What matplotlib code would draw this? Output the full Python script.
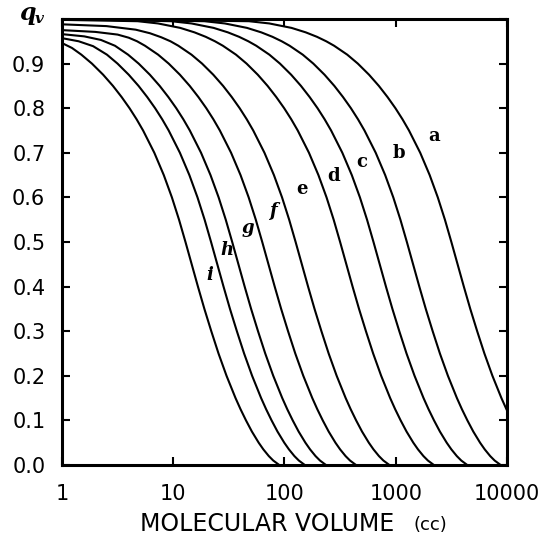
import numpy as np
import matplotlib
matplotlib.use("Agg")
import matplotlib.pyplot as plt

# ---- data: log10(molecular volume) at given q_v ----
Q_LEVELS = [0.92, 0.90, 0.875, 0.85, 0.825, 0.80, 0.775, 0.75, 0.70, 0.65,
            0.60, 0.55, 0.50, 0.45, 0.40, 0.35, 0.30, 0.25, 0.20, 0.15,
            0.125, 0.10, 0.075, 0.05, 0.035, 0.02, 0.01, 0.0]

curve_names = ["a", "b", "c", "d", "e", "f", "g", "h", "i"]

# upper tails (log10 V, q) for each curve, above q = 0.92
top_a_logv = [0.0, 1.68, 1.863, 2.063, 2.191, 2.292, 2.375, 2.446]
top_a_q    = [1.0, 0.995, 0.99, 0.98, 0.97, 0.96, 0.95, 0.94]
top_b_logv = [0.0, 1.28, 1.463, 1.663, 1.791, 1.892, 1.975, 2.046]
top_b_q    = [1.0, 0.995, 0.99, 0.98, 0.97, 0.96, 0.95, 0.94]
top_c_logv = [0.0, 0.98, 1.163, 1.363, 1.491, 1.592, 1.675, 1.746]
top_c_q    = [1.0, 0.995, 0.99, 0.98, 0.97, 0.96, 0.95, 0.94]
top_d_logv = [0.0, 0.68, 0.863, 1.063, 1.191, 1.292, 1.375, 1.446]
top_d_q    = [0.998, 0.995, 0.99, 0.98, 0.97, 0.96, 0.95, 0.94]
top_e_logv = [0.0, 0.40, 0.663, 0.791, 0.892, 0.975, 1.046]
top_e_q    = [0.988, 0.984, 0.976, 0.968, 0.959, 0.95, 0.94]
top_f_logv = [0.0, 0.30, 0.50, 0.60, 0.675, 0.746]
top_f_q    = [0.975, 0.971, 0.965, 0.958, 0.95, 0.94]
top_g_logv = [0.0, 0.20, 0.35, 0.476]
top_g_q    = [0.966, 0.961, 0.953, 0.94]
top_h_logv = [0.0, 0.15, 0.28]
top_h_q    = [0.957, 0.95, 0.939]
top_i_logv = [0.0, 0.09]
top_i_q    = [0.946, 0.935]

# lower parts: log10 V at the Q_LEVELS
a_logv = [2.564, 2.659, 2.760, 2.848, 2.926, 2.997, 3.061, 3.119, 3.220, 3.305,
          3.378, 3.442, 3.500, 3.556, 3.612, 3.670, 3.732, 3.797, 3.869, 3.950,
          3.995, 4.044, 4.097, 4.158, 4.200, 4.249, 4.289, 4.343]
b_logv = [2.164, 2.259, 2.360, 2.448, 2.526, 2.597, 2.661, 2.719, 2.820, 2.905,
          2.978, 3.042, 3.100, 3.156, 3.212, 3.270, 3.332, 3.397, 3.469, 3.550,
          3.595, 3.644, 3.697, 3.758, 3.800, 3.849, 3.889, 3.943]
c_logv = [1.864, 1.959, 2.060, 2.148, 2.226, 2.297, 2.361, 2.419, 2.520, 2.605,
          2.678, 2.742, 2.800, 2.856, 2.912, 2.970, 3.032, 3.097, 3.169, 3.250,
          3.295, 3.344, 3.397, 3.458, 3.500, 3.549, 3.589, 3.643]
d_logv = [1.564, 1.659, 1.760, 1.848, 1.926, 1.997, 2.061, 2.119, 2.220, 2.305,
          2.378, 2.442, 2.500, 2.556, 2.612, 2.670, 2.732, 2.797, 2.869, 2.950,
          2.995, 3.044, 3.097, 3.158, 3.200, 3.249, 3.289, 3.343]
e_logv = [1.164, 1.259, 1.360, 1.448, 1.526, 1.597, 1.661, 1.719, 1.820, 1.905,
          1.978, 2.042, 2.100, 2.156, 2.212, 2.270, 2.332, 2.397, 2.469, 2.550,
          2.595, 2.644, 2.697, 2.758, 2.800, 2.849, 2.889, 2.943]
f_logv = [0.864, 0.959, 1.060, 1.148, 1.226, 1.297, 1.361, 1.419, 1.520, 1.605,
          1.678, 1.742, 1.800, 1.856, 1.912, 1.970, 2.032, 2.097, 2.169, 2.250,
          2.295, 2.344, 2.397, 2.458, 2.500, 2.549, 2.589, 2.643]
g_logv = [0.594, 0.689, 0.790, 0.878, 0.956, 1.027, 1.091, 1.149, 1.250, 1.335,
          1.408, 1.472, 1.530, 1.586, 1.642, 1.700, 1.762, 1.827, 1.899, 1.980,
          2.025, 2.074, 2.127, 2.188, 2.230, 2.279, 2.319, 2.373]
h_logv = [0.404, 0.499, 0.600, 0.688, 0.766, 0.837, 0.901, 0.959, 1.060, 1.145,
          1.218, 1.282, 1.340, 1.396, 1.452, 1.510, 1.572, 1.637, 1.709, 1.790,
          1.835, 1.884, 1.937, 1.998, 2.040, 2.089, 2.129, 2.183]
i_logv = [0.174, 0.269, 0.370, 0.458, 0.536, 0.607, 0.671, 0.729, 0.830, 0.915,
          0.988, 1.052, 1.110, 1.166, 1.222, 1.280, 1.342, 1.407, 1.479, 1.560,
          1.605, 1.654, 1.707, 1.768, 1.810, 1.859, 1.899, 1.953]

x_ticks = [1, 10, 100, 1000, 10000]
x_ticklabels = ["1", "10", "100", "1000", "10000"]
y_ticks = [0.0, 0.1, 0.2, 0.3, 0.4, 0.5, 0.6, 0.7, 0.8, 0.9, 1.0]
y_ticklabels = ["0.0", "0.1", "0.2", "0.3", "0.4", "0.5", "0.6", "0.7", "0.8", "0.9", ""]

tops = {"a": (top_a_logv, top_a_q), "b": (top_b_logv, top_b_q),
        "c": (top_c_logv, top_c_q), "d": (top_d_logv, top_d_q),
        "e": (top_e_logv, top_e_q), "f": (top_f_logv, top_f_q),
        "g": (top_g_logv, top_g_q), "h": (top_h_logv, top_h_q),
        "i": (top_i_logv, top_i_q)}
lows = {"a": a_logv, "b": b_logv, "c": c_logv, "d": d_logv, "e": e_logv,
        "f": f_logv, "g": g_logv, "h": h_logv, "i": i_logv}

# label placement (axes-fraction layout)
label_pos = {"a": (0.836, 0.738), "b": (0.757, 0.700), "c": (0.674, 0.679),
             "d": (0.611, 0.648), "e": (0.539, 0.619), "f": (0.474, 0.570),
             "g": (0.418, 0.531), "h": (0.371, 0.482), "i": (0.332, 0.426)}

fig = plt.figure(figsize=(5.5, 5.39), dpi=100)
ax = fig.add_axes([0.1127, 0.1373, 0.8091, 0.8275])

for n in curve_names:
    tl, tq = tops[n]
    lv = list(tl) + list(lows[n])
    qq = list(tq) + list(Q_LEVELS)
    ax.plot(np.power(10.0, lv), qq, color="black", lw=1.5,
            solid_joinstyle="round", solid_capstyle="round")

ax.set_xscale("log")
ax.set_xlim(1, 10000)
ax.set_ylim(0, 1.0)
ax.set_xticks(x_ticks)
ax.set_xticklabels(x_ticklabels)
ax.xaxis.set_minor_locator(matplotlib.ticker.NullLocator())
ax.set_yticks(y_ticks)
ax.set_yticklabels(y_ticklabels)

for s in ax.spines.values():
    s.set_linewidth(2.2)
ax.tick_params(axis="both", which="major", direction="in", length=6, width=1.5,
               top=True, right=True, labelsize=15)
ax.tick_params(axis="x", pad=14)
ax.tick_params(axis="y", pad=12)

for n in curve_names:
    x, y = label_pos[n]
    style = "italic" if n in "fghi" else "normal"
    ax.text(x, y, n, transform=ax.transAxes, fontsize=13, fontweight="bold",
            family="DejaVu Serif", style=style, ha="center", va="center")

fig.text(0.035, 0.975, "q", fontsize=17, fontweight="bold", style="italic",
         family="DejaVu Serif", ha="left", va="center")
fig.text(0.063, 0.965, "v", fontsize=11, fontweight="bold", style="italic",
         family="DejaVu Serif", ha="left", va="center")

fig.text(0.485, 0.028, "MOLECULAR VOLUME", fontsize=17, ha="center", va="center")
fig.text(0.782, 0.026, "(cc)", fontsize=13, ha="center", va="center")

fig.savefig("out.png", dpi=100)
